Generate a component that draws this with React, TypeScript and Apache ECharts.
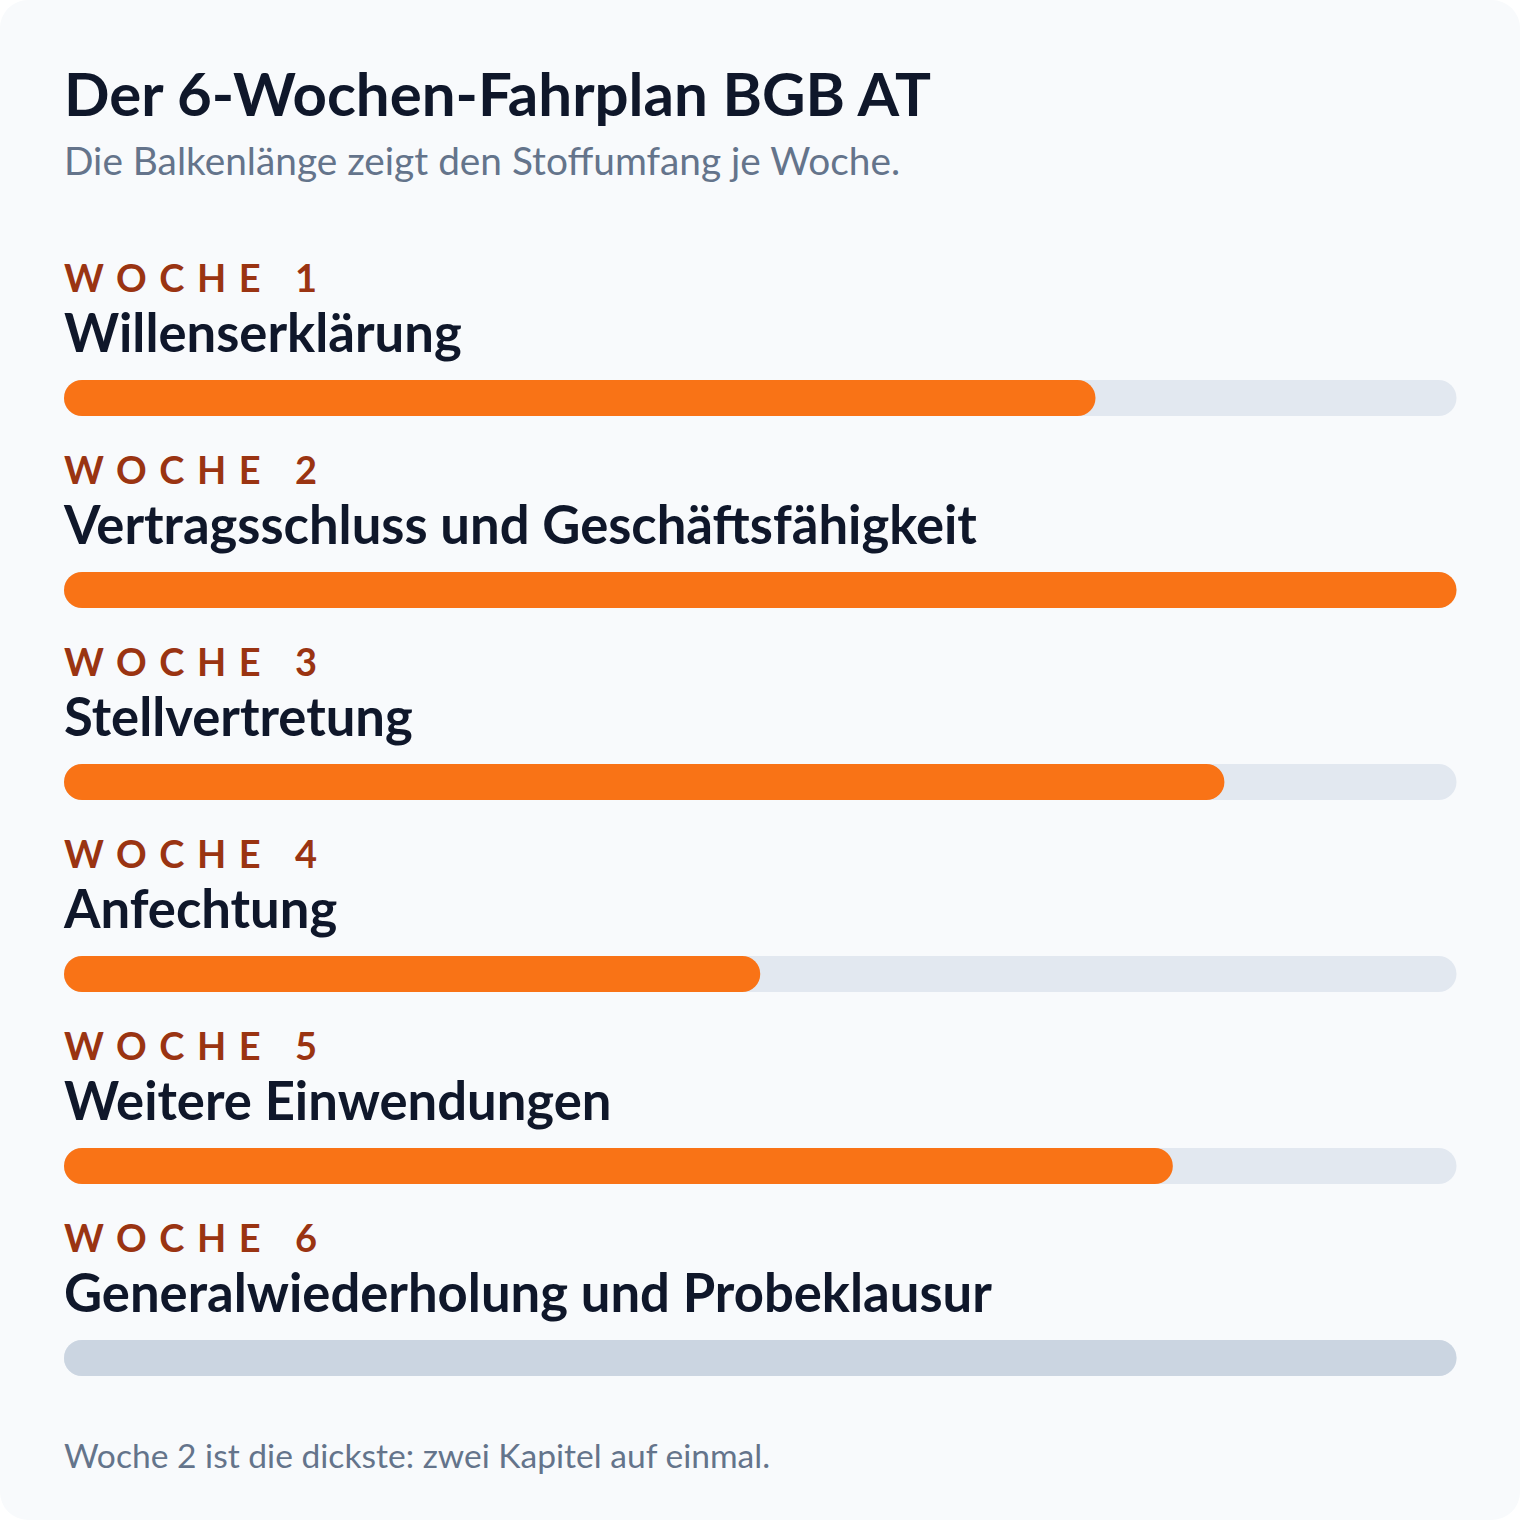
import * as echarts from "echarts"
import { useEffect, useRef } from "react"

// Stoffumfang je Woche (Balkenlänge), Woche 6 = Wiederholung über die volle Länge
const weeks = ["WOCHE 1", "WOCHE 2", "WOCHE 3", "WOCHE 4", "WOCHE 5", "WOCHE 6"]
const topics = [
  "Willenserklärung",
  "Vertragsschluss und Geschäftsfähigkeit",
  "Stellvertretung",
  "Anfechtung",
  "Weitere Einwendungen",
  "Generalwiederholung und Probeklausur",
]
const workload = [40, 54, 45, 27, 43, 54]
const reviewWeek = [false, false, false, false, false, true]
const maxWorkload = 54

const TITLE = "Der 6-Wochen-Fahrplan BGB AT"
const SUBTITLE = "Die Balkenlänge zeigt den Stoffumfang je Woche."
const FOOTNOTE = "Woche 2 ist die dickste: zwei Kapitel auf einmal."

const FONT = "Lato, 'Noto Sans', sans-serif"
const ROW = 192
const LABEL_SIZE = 38
const LABEL_WIDTH = 253
const TOPIC_SIZE = 52.6

// y for a middle-aligned text whose baseline should sit at `base`
const mid = (base: number, size: number) => base - 0.387 * size

export default function App() {
  const ref = useRef<HTMLDivElement>(null)

  useEffect(() => {
    if (!ref.current) return
    const chart = echarts.init(ref.current, null, { renderer: "svg" })

    const texts: any[] = [
      { type: "text", left: 64, y: mid(116.7, 60), silent: true,
        style: { text: TITLE, font: `bold 60px ${FONT}`, fill: "#0f172a", verticalAlign: "middle" } },
      { type: "text", left: 64, y: mid(175, 38.8), silent: true,
        style: { text: SUBTITLE, font: `38.8px ${FONT}`, fill: "#64748b", verticalAlign: "middle" } },
      { type: "text", left: 64, y: mid(1468, 33.6), silent: true,
        style: { text: FOOTNOTE, font: `33.6px ${FONT}`, fill: "#64748b", verticalAlign: "middle" } },
    ]
    weeks.forEach((w, i) => {
      texts.push({ type: "text", left: 64, y: mid(291.7 + ROW * i, LABEL_SIZE), silent: true,
        style: { text: w, font: `bold ${LABEL_SIZE}px ${FONT}`, fill: "#9a3412", verticalAlign: "middle" } })
      texts.push({ type: "text", left: 64, y: mid(351.7 + ROW * i, TOPIC_SIZE), silent: true,
        style: { text: topics[i], font: `bold ${TOPIC_SIZE}px ${FONT}`, fill: "#0f172a", verticalAlign: "middle" } })
    })

    chart.setOption({
      animation: false,
      backgroundColor: "#ffffff",
      graphic: [
        { type: "rect", shape: { x: 0, y: 0, width: 1520, height: 1520, r: 28 }, style: { fill: "#f8fafc" }, silent: true, z: -10 },
        ...texts,
      ],
      grid: { left: 64, right: 63.5, top: 302, bottom: 66 },
      xAxis: { type: "value", min: 0, max: maxWorkload, show: false },
      yAxis: { type: "category", data: weeks, inverse: true, show: false },
      series: [
        {
          type: "bar",
          silent: true,
          barWidth: 36,
          showBackground: true,
          backgroundStyle: { color: "#e2e8f0", borderRadius: 18 },
          itemStyle: { borderRadius: 18 },
          data: workload.map((v, i) => ({
            value: v,
            itemStyle: { color: reviewWeek[i] ? "#cbd5e1" : "#f97316" },
          })),
        },
      ],
    })

    // wide tracking on the week labels
    const spaceOut = () => {
      const ctx = document.createElement("canvas").getContext("2d")
      if (!ctx || !ref.current) return
      ctx.font = `bold ${LABEL_SIZE}px Lato`
      ref.current.querySelectorAll("text").forEach((t) => {
        const s = t.textContent || ""
        if (!/^WOCHE/.test(s)) return
        const ls = (LABEL_WIDTH - ctx.measureText(s).width) / (s.length - 1)
        t.setAttribute("letter-spacing", `${ls}px`)
      })
    }
    chart.getZr().flush()
    spaceOut()
    const timer = setTimeout(spaceOut, 50)

    return () => {
      clearTimeout(timer)
      chart.dispose()
    }
  }, [])

  return <div ref={ref} style={{ position: "absolute", left: 0, top: 0, width: 1520, height: 1520 }} />
}
